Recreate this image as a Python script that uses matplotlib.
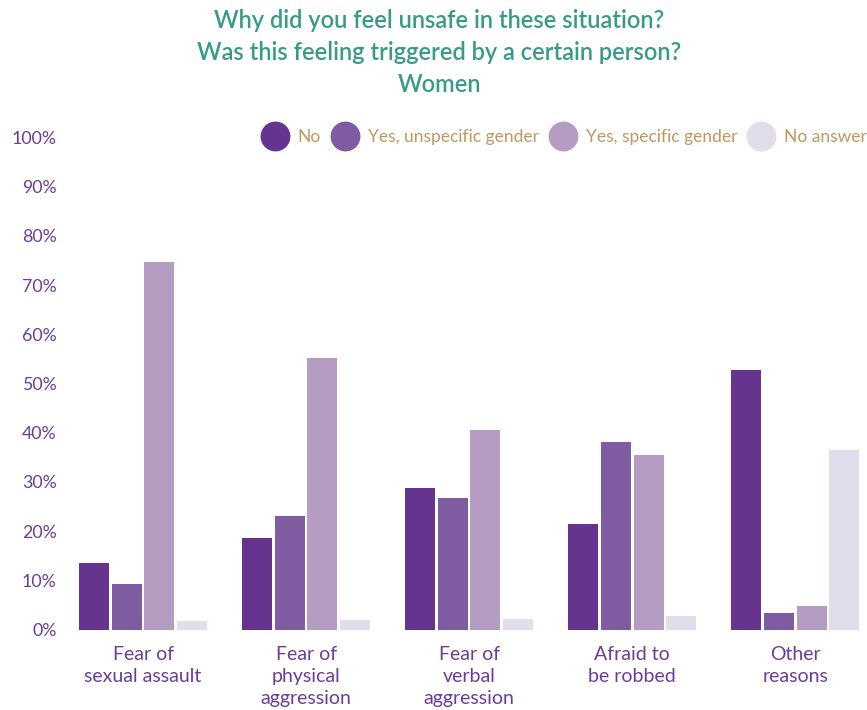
import matplotlib.pyplot as plt
import numpy as np
from matplotlib.lines import Line2D

# survey answers, percent of women per reason
categories = ["Fear of\nsexual assault", "Fear of\nphysical\naggression",
              "Fear of\nverbal\naggression", "Afraid to\nbe robbed", "Other\nreasons"]
series_names = ["No", "Yes, unspecific gender", "Yes, specific gender", "No answer"]
no_vals = [13.5, 18.6, 28.8, 21.5, 52.7]
unspecific_vals = [9.3, 23.1, 26.7, 38.1, 3.4]
specific_vals = [74.7, 55.2, 40.6, 35.5, 4.8]
no_answer_vals = [1.8, 2.0, 2.2, 2.8, 36.5]
yticks = [0, 10, 20, 30, 40, 50, 60, 70, 80, 90, 100]

colors = ["#66348f", "#7f5ba1", "#b59dc2", "#e1ddec"]
purple_txt = "#6a3d98"
gold_txt = "#c0975f"
teal = "#3a9a8a"

plt.rcParams['font.family'] = ['Lato', 'DejaVu Sans']

fig = plt.figure(figsize=(8.67, 7.10), dpi=100)
ax = fig.add_axes([65 / 867, 80.3 / 710, (867 - 65) / 867, 492.4 / 710])

x = np.arange(len(categories))
width = 0.184
offsets = [-0.3, -0.1, 0.1, 0.3]
data = [no_vals, unspecific_vals, specific_vals, no_answer_vals]
for vals, off, c in zip(data, offsets, colors):
    ax.bar(x + off, vals, width, color=c, linewidth=0)

ax.set_xlim(-0.479, 4.44)
ax.set_ylim(0, 100)
ax.set_yticks(yticks)
ax.set_yticklabels([f"{v}%" for v in yticks])
ax.set_xticks(x)
ax.set_xticklabels(categories, linespacing=1.36)
ax.tick_params(axis='y', length=0, pad=6, labelsize=12.8, labelcolor=purple_txt)
ax.tick_params(axis='x', length=0, pad=12, labelsize=14, labelcolor=purple_txt)
for s in ax.spines.values():
    s.set_visible(False)

# legend across the top
handles = [Line2D([], [], marker='o', linestyle='none', markersize=21.5,
                  markerfacecolor=c, markeredgewidth=0) for c in colors]
leg = fig.legend(handles, series_names, loc='center right', ncol=4,
                 bbox_to_anchor=(1.0, 1 - 137 / 710), frameon=False,
                 fontsize=12.5, handletextpad=0.32, columnspacing=0.38,
                 handlelength=2.0, borderaxespad=0, borderpad=0)
for t in leg.get_texts():
    t.set_color(gold_txt)

fig.text(0.507, 1 - 20 / 710, "Why did you feel unsafe in these situation?",
         ha='center', va='center', fontsize=17, color=teal, weight='semibold')
fig.text(0.507, 1 - 52 / 710, "Was this feeling triggered by a certain person?",
         ha='center', va='center', fontsize=17, color=teal, weight='semibold')
fig.text(0.507, 1 - 84 / 710, "Women",
         ha='center', va='center', fontsize=17, color=teal, weight='semibold')

fig.savefig("out.png", dpi=100)
